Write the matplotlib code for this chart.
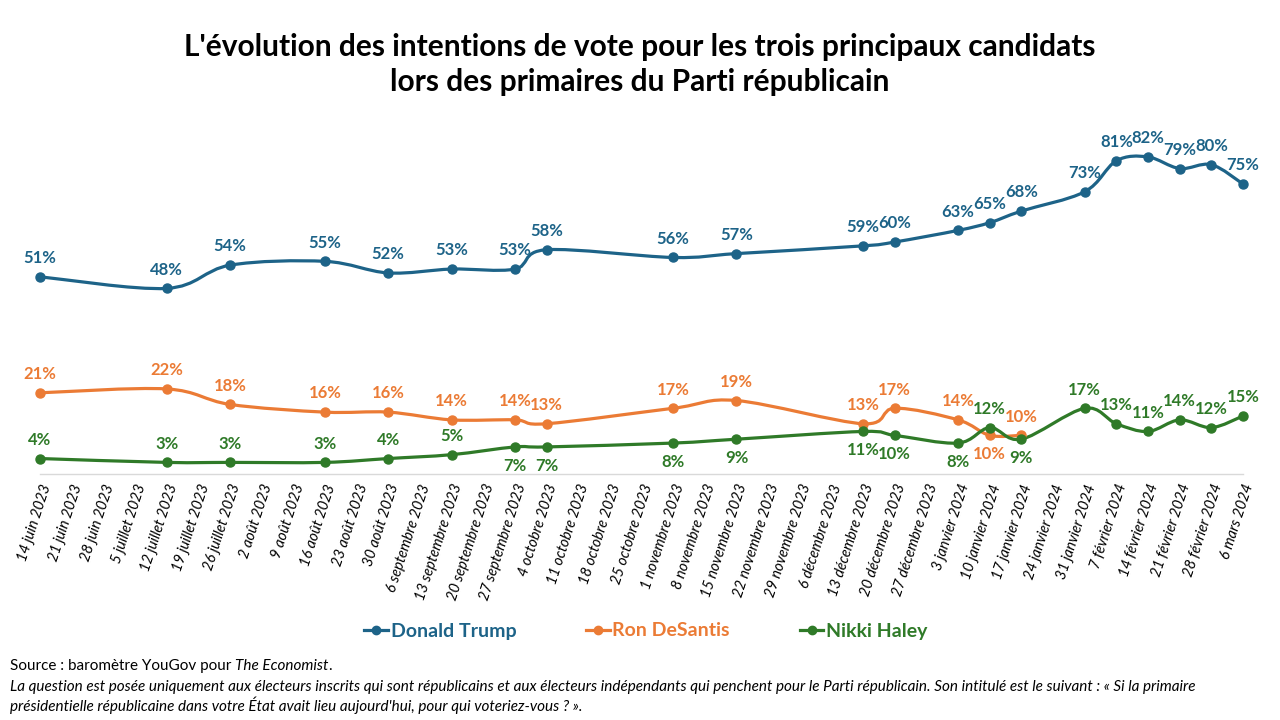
import numpy as np
import pandas as pd
import matplotlib
matplotlib.use("Agg")
import matplotlib.pyplot as plt
import matplotlib.dates as mdates
from matplotlib.path import Path
from matplotlib.patches import PathPatch
from matplotlib.lines import Line2D

plt.rcParams['font.family'] = ['Lato', 'DejaVu Sans']

# donnees
dates = ['2023-06-14', '2023-07-12', '2023-07-26', '2023-08-16', '2023-08-30',
         '2023-09-13', '2023-09-27', '2023-10-04', '2023-11-01', '2023-11-15',
         '2023-12-13', '2023-12-20', '2024-01-03', '2024-01-10', '2024-01-17',
         '2024-01-31', '2024-02-07', '2024-02-14', '2024-02-21', '2024-02-28',
         '2024-03-06']
trump = [51, 48, 54, 55, 52, 53, 53, 58, 56, 57, 59, 60, 63, 65, 68, 73, 81, 82, 79, 80, 75]
desantis = [21, 22, 18, 16, 16, 14, 14, 13, 17, 19, 13, 17, 14, 10, 10]
haley = [4, 3, 3, 3, 4, 5, 7, 7, 8, 9, 11, 10, 8, 12, 9, 17, 13, 11, 14, 12, 15]

# position des etiquettes : 1 = au-dessus, -1 = en dessous
pos_desantis = [1] * 13 + [-1, 1]
pos_haley = [1, 1, 1, 1, 1, 1, -1, -1, -1, -1, -1, -1, -1, 1, -1, 1, 1, 1, 1, 1, 1]

mois = ['janvier', 'février', 'mars', 'avril', 'mai', 'juin', 'juillet', 'août',
        'septembre', 'octobre', 'novembre', 'décembre']

c_trump = '#1D6388'
c_desantis = '#EB7B35'
c_haley = '#2F7A28'


def smooth_path(xs, ys):
    # lissage type Excel (Catmull-Rom en Bezier)
    pts = np.column_stack([xs, ys]).astype(float)
    n = len(pts)
    verts = [pts[0]]
    codes = [Path.MOVETO]
    for i in range(n - 1):
        p0 = pts[i - 1] if i > 0 else pts[i]
        p1 = pts[i]
        p2 = pts[i + 1]
        p3 = pts[i + 2] if i + 2 < n else pts[i + 1]
        verts += [p1 + (p2 - p0) / 6, p2 - (p3 - p1) / 6, p2]
        codes += [Path.CURVE4] * 3
    return Path(verts, codes)


x = mdates.date2num(pd.to_datetime(dates))

fig = plt.figure(figsize=(12.8, 7.2), dpi=100)
ax = fig.add_axes([40 / 1280, 1 - 474 / 720, 1203 / 1280, 348 / 720])
ax.set_xlim(x[0], x[-1])
ax.set_ylim(0, 90)

series = [
    (trump, c_trump, [1] * len(trump), 'Donald Trump'),
    (desantis, c_desantis, pos_desantis, 'Ron DeSantis'),
    (haley, c_haley, pos_haley, 'Nikki Haley'),
]
for vals, col, pos, name in series:
    xs = x[:len(vals)]
    ax.add_patch(PathPatch(smooth_path(xs, vals), fill=False, edgecolor=col,
                           lw=2.3, capstyle='round', clip_on=False, zorder=3))
    ax.plot(xs, vals, 'o', color=col, ms=6.5, clip_on=False, zorder=4)
    for xi, v, p in zip(xs, vals, pos):
        ax.annotate(f'{v}%', (xi, v), xytext=(0, 13.5 * p), textcoords='offset points',
                    ha='center', va='center', fontsize=12, fontweight='bold',
                    color=col, zorder=5)

for s in ['top', 'right', 'left']:
    ax.spines[s].set_visible(False)
ax.spines['bottom'].set_color('#D9D9D9')
ax.spines['bottom'].set_linewidth(1)
ax.set_yticks([])

ticks = pd.date_range(dates[0], dates[-1], freq='7D')
ax.set_xticks(mdates.date2num(ticks))
ax.set_xticklabels([f'{d.day} {mois[d.month - 1]} {d.year}' for d in ticks],
                   rotation=72, ha='right', rotation_mode='anchor',
                   fontsize=10.5, style='italic')
ax.tick_params(axis='x', length=0, pad=6)

fig.text(0.5, 1 - 47 / 720, "L'évolution des intentions de vote pour les trois principaux candidats",
         ha='center', va='center', fontsize=21.5, fontweight='bold')
fig.text(0.5, 1 - 82 / 720, "lors des primaires du Parti républicain",
         ha='center', va='center', fontsize=21.5, fontweight='bold')

handles = [Line2D([], [], color=c, lw=2.3, marker='o', ms=6)
           for c in (c_trump, c_desantis, c_haley)]
fig.legend(handles, [s[3] for s in series], loc='center', bbox_to_anchor=(646 / 1280, 1 - 631 / 720),
           ncol=3, frameon=False, handlelength=1.2, handletextpad=0.15, columnspacing=3.6,
           labelcolor='linecolor', prop={'weight': 'bold', 'size': 14})

fs_note = 11
src = fig.text(10 / 1280, 1 - 666 / 720, 'Source : baromètre YouGov pour ',
               ha='left', va='center', fontsize=fs_note)
fig.canvas.draw()
rend = fig.canvas.get_renderer()
bb = src.get_window_extent(renderer=rend)
eco = fig.text(bb.x1 / 1280, bb.y0 / 720, 'The Economist', fontsize=fs_note,
               style='italic', ha='left', va='bottom')
bb2 = eco.get_window_extent(renderer=rend)
fig.text(bb2.x1 / 1280, bb.y0 / 720, '.', fontsize=fs_note, ha='left', va='bottom')

fig.text(10 / 1280, 1 - 687 / 720,
         "La question est posée uniquement aux électeurs inscrits qui sont républicains et aux électeurs "
         "indépendants qui penchent pour le Parti républicain. Son intitulé est le suivant : « Si la primaire",
         ha='left', va='center', fontsize=fs_note, style='italic')
fig.text(10 / 1280, 1 - 705 / 720,
         "présidentielle républicaine dans votre État avait lieu aujourd'hui, pour qui voteriez-vous ? ».",
         ha='left', va='center', fontsize=fs_note, style='italic')

fig.savefig('out.png', dpi=100)
